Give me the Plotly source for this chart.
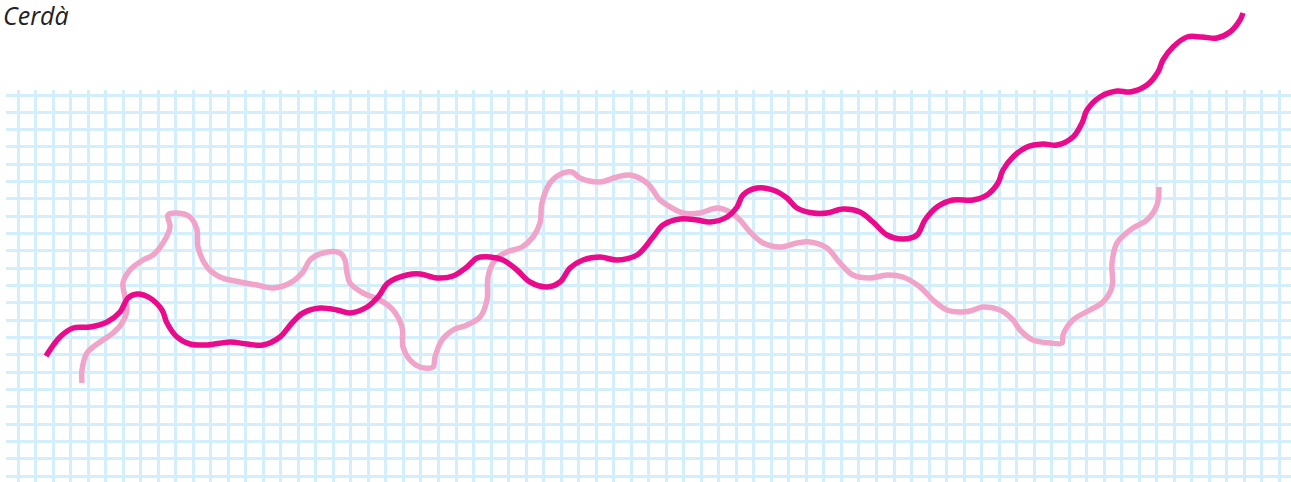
import plotly.graph_objects as go

W, H = 1291, 482

# traced paths, in picture pixels (x right, y down)
dark_x = [46, 60, 73, 90, 107, 120, 128, 137, 150, 162, 167, 177, 190, 207, 230, 247, 263, 280,
          292, 303, 320, 337, 350, 367, 378, 388, 407, 420, 437, 453, 467, 477, 490, 503, 517,
          530, 547, 560, 570, 583, 600, 617, 637, 653, 663, 680, 697, 710, 727, 737, 743, 757,
          773, 787, 797, 813, 827, 843, 860, 873, 887, 903, 917, 925, 937, 953, 973, 987, 998,
          1003, 1013, 1027, 1043, 1057, 1073, 1082, 1087, 1100, 1117, 1130, 1147, 1158, 1163,
          1173, 1187, 1202, 1217, 1230, 1240, 1243]
dark_y = [356, 337, 328, 327, 322, 312, 298, 294, 298, 310, 323, 337, 344, 345, 342, 344, 345, 337,
          323, 313, 308, 310, 313, 307, 297, 283, 275, 274, 278, 276, 267, 258, 257, 260, 270,
          282, 287, 282, 268, 260, 257, 260, 255, 237, 225, 219, 220, 222, 217, 207, 195, 188,
          190, 198, 208, 213, 213, 209, 212, 222, 235, 239, 235, 220, 207, 200, 200, 195, 183,
          170, 157, 147, 144, 145, 137, 123, 110, 97, 91, 92, 85, 72, 60,
          47, 37, 37, 38, 32, 20, 13]

light_x = [82, 82, 87, 100, 113, 122, 127, 125, 123, 130, 143, 153, 163, 170, 168, 177, 190, 197,
           198, 207, 220, 240, 257, 273, 290, 303, 310, 323, 340, 345, 347, 350, 363, 380, 393,
           402, 403, 410, 420, 433, 435, 442, 453, 467, 480, 487, 488, 495, 507, 522, 533, 540,
           542, 550, 563, 572, 580, 600, 617, 630, 647, 660, 667, 683, 700, 717, 730, 740, 750,
           763, 780, 797, 810, 827, 840, 853, 870, 887, 903, 920, 933, 947, 960, 970, 983, 1000,
           1013, 1020, 1033, 1050, 1062, 1063, 1073, 1090, 1103, 1112, 1112, 1117, 1133, 1147,
           1157, 1159]
light_y = [383, 370, 353, 342, 333, 323, 310, 297, 283, 270, 260, 255, 243, 227, 215, 213, 217, 230,
           247, 267, 277, 282, 285, 288, 283, 272, 260, 253, 253, 260, 273, 283, 293, 300, 310,
           327, 347, 360, 367, 367, 357, 340, 330, 325, 317, 300, 277, 260, 252, 247, 237, 223,
           203, 183, 173, 172, 178, 182, 177, 175, 183, 200, 205, 213, 213, 208, 212, 220, 232,
           243, 247, 243, 242, 248, 263, 275, 278, 275, 277, 287, 300, 310, 312, 311, 307, 310,
           320, 330, 340, 343, 343, 335, 320, 310, 302, 287, 263, 243, 228, 220,
           205, 187]

title = "Cerdà"

fig = go.Figure()

# paper grid lives on the default xy axes, curves on a full-page x2/y2 overlay
fig.add_trace(go.Scatter(x=[None], y=[None], showlegend=False, hoverinfo="skip"))

fig.add_trace(go.Scatter(
    x=light_x, y=light_y, xaxis="x2", yaxis="y2", mode="lines",
    line=dict(color="#f1a4c9", width=5.5, shape="spline", smoothing=1),
    showlegend=False, hoverinfo="skip"))
fig.add_trace(go.Scatter(
    x=dark_x, y=dark_y, xaxis="x2", yaxis="y2", mode="lines",
    line=dict(color="#ea0a8c", width=5.5, shape="spline", smoothing=1),
    showlegend=False, hoverinfo="skip"))

grid = dict(showgrid=True, gridcolor="#d3effb", gridwidth=3, zeroline=False,
            showticklabels=False, ticks="", showline=False)

fig.update_layout(
    width=W, height=H, autosize=False,
    margin=dict(l=0, r=0, t=0, b=0),
    paper_bgcolor="white", plot_bgcolor="rgba(0,0,0,0)",
    xaxis=dict(domain=[6 / W, 1], range=[6, W], tick0=18, dtick=17.52, **grid),
    yaxis=dict(domain=[0, (H - 90) / H], range=[H, 90], tick0=95, dtick=17.32, **grid),
    xaxis2=dict(domain=[0, 1], range=[0, W], anchor="y2", visible=False),
    yaxis2=dict(domain=[0, 1], range=[H, 0], anchor="x2", visible=False),
    annotations=[dict(
        text=title, xref="paper", yref="paper", x=0, y=1 - 15 / H,
        xanchor="left", yanchor="middle", xshift=1, showarrow=False,
        font=dict(family="Open Sans", size=25, color="#222222", style="italic"))],
)

# drop the browser's default page margin so the figure sits at the window corner
fig.write_html("out.html", config={"displayModeBar": False},
               post_script="document.body.style.margin='0';")
